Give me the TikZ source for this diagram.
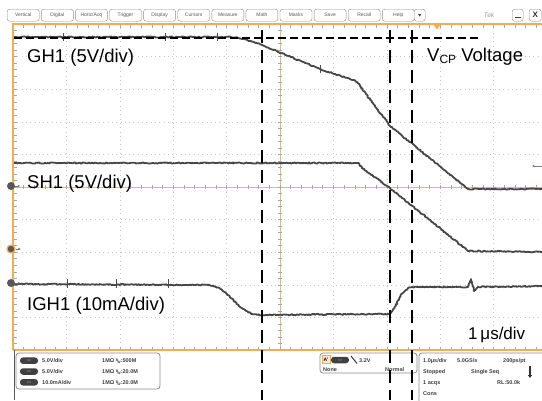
\documentclass[tikz,border=0pt]{standalone}
\usepackage{fontspec}
\setmainfont{Liberation Sans}
\usetikzlibrary{arrows.meta,decorations.pathmorphing}
\definecolor{tekorange}{RGB}{242,172,82}
\definecolor{axistan}{RGB}{205,190,160}
\tikzset{trace/.style={draw=black!72,line width=1.8pt,line join=round,
           decorate,decoration={random steps,segment length=1.3pt,amplitude=0.6pt}},
         spike/.style={draw=black!70,line width=0.8pt},
         cursor/.style={line width=2.6pt,dash pattern=on 13pt off 7pt},
         hcursor/.style={line width=1.8pt,dash pattern=on 7.5pt off 4.5pt},
         griddot/.style={draw=black!22,line width=0.6pt,dash pattern=on 0.7pt off 3.6pt},
         tick/.style={draw=black!35,line width=0.5pt},
         scopebtn/.style={draw=black!45,rounded corners=2.5pt,fill=white,minimum width=32pt,
           minimum height=12pt,inner sep=0pt,font=\fontsize{5}{6}\selectfont,text=black!65},
         lbl/.style={font=\fontsize{18.5}{20}\selectfont,inner sep=0pt,anchor=base west},
         info/.style={font=\fontsize{5.5}{6}\selectfont\bfseries,text=black!75,inner sep=0pt,anchor=base west},
         panel/.style={draw=black!45,line width=0.8pt,rounded corners=3pt},
         chpill/.style={fill=black!75,rounded corners=3pt,minimum width=18pt,minimum height=6.5pt,
           inner sep=0pt,font=\fontsize{3}{3}\selectfont,text=black!35},
         chmark/.style={circle,fill=black!65,minimum size=8pt,inner sep=0pt}
         }
\pgfmathsetseed{11}
\begin{document}
\begin{tikzpicture}[x=1pt,y=-1pt] % scope capture
  \useasboundingbox (0,0) rectangle (542,400);
  \fill[white] (0,0) rectangle (542,400);
  % menu bar
  \foreach \name [count=\i from 0] in {Vertical,Digital,Horiz/Acq,Trigger,Display,Cursors,Measure,Math,Masks,Save,Recall,Help}
    \node[scopebtn,anchor=north west] (btn\i) at (7+34.1*\i,9) {\name};
  \node[scopebtn,anchor=north west,minimum width=11pt] (btnmore) at (414,9) {};
  \fill[black!70] ([xshift=-1.6pt,yshift=1pt]btnmore.center) -- ++(3.2,0) -- ++(-1.6,2.4) -- cycle;
  \node[text=black!40,font=\fontsize{6.5}{7}\selectfont\itshape] (tek) at (489,15) {Tek};
  \node[scopebtn,anchor=north west,minimum width=11pt] (btnmin) at (512,9) {};
  \draw[black!75,line width=1pt] ([xshift=-3pt,yshift=-2pt]btnmin.center) -- ++(6,0);
  \node[scopebtn,anchor=north west,minimum width=12pt,font=\fontsize{8}{8}\selectfont\bfseries,text=black!80] (btnx) at (529,9) {X};
  % graticule
  \foreach \k in {1,...,9} {
    \draw[griddot] (13+53.4*\k,24) -- (13+53.4*\k,350);
    \draw[griddot] (13,24+32.6*\k) -- (547,24+32.6*\k);
  }
  \draw[axistan,line width=0.7pt] (280,24) -- (280,350);
  \draw[axistan,line width=0.7pt] (13,187) -- (547,187);
  \foreach \k in {0,...,50} {
    \draw[tick] (13+10.68*\k,24) -- ++(0,3.5);
    \draw[tick] (13+10.68*\k,350) -- ++(0,-3.5);
    \draw[tick] (13+10.68*\k,185) -- ++(0,4);
    \draw[tick] (13,24+6.52*\k) -- ++(3.5,0);
    \draw[tick] (278,24+6.52*\k) -- ++(4,0);
  }
  \draw[tekorange,line width=1.6pt] (13,350) -- (13,24) -- (547,24);
  \draw[tekorange,line width=1.6pt] (13,350) -- (547,350);
  \fill[tekorange] (433,24) -- (441,24) -- (437,29.5) -- cycle;
  % traces
  \draw[trace] (14,37) -- (225,37) .. controls (240,37) and (248,40) .. (262,45)
    -- (320,69) -- (350,79) .. controls (356,81) .. (360,86) -- (390,126) -- (468,189) -- (542,189);
  \draw[trace] (14,163) -- (354,163) .. controls (358,163) .. (362,168)
    -- (390,188) -- (468,251) -- (542,252);
  \draw[trace] (14,284) -- (208,285) .. controls (222,286) and (232,300) .. (242,308)
    .. controls (248,313) and (254,315) .. (262,315) -- (388,314)
    .. controls (396,312) and (398,295) .. (406,290) .. controls (408,288) .. (414,287)
    -- (468,287) -- (471,279) -- (474,291) -- (478,287) -- (542,286);
  \foreach \sx/\sy in {63/33,165/33,217/33,320/65} \draw[spike] (\sx,\sy) -- ++(0,8);
  \foreach \sx in {67,116,168} \draw[spike] (\sx,279) -- ++(0,9);
  % channel markers
  \node[chmark] (m2) at (11,186) {};
  \node[chmark,draw=tekorange,line width=1.2pt] (m3) at (11,249) {};
  \node[chmark] (m4) at (11,283) {};
  \foreach \m in {m2,m3,m4}
    \draw[black!55,line width=0.6pt,-{Stealth[length=2.5pt,width=2.5pt]}] (\m.east) -- ++(5,0);
  \coordinate (refR) at (542,166);
  \coordinate (refL) at (532,166);
  \draw[black!50,line width=0.6pt,-{Stealth[length=2.5pt,width=2.5pt]}] (refR) -- (refL);
  % labels
  \node[lbl] (gh1) at (27,62) {GH1 (5V/div)};
  \node[lbl] (sh1) at (27,188) {SH1 (5V/div)};
  \node[lbl] (igh1) at (27,310) {IGH1 (10mA/div)};
  \node[lbl] (vcp) at (427,61) {V\raisebox{-0.25ex}{\fontsize{12}{12}\selectfont CP} Voltage};
  \node[lbl,font=\fontsize{17}{19}\selectfont] (tdiv) at (468,339) {1\,μs/div};
  % readout panel
  \draw[black!65,line width=0.8pt] (14,350) -- (14,400);
  \draw[panel] (16,353) rectangle (160,389);
  \foreach \r/\ch in {0/2,1/3,2/4}
    \node[chpill] (pill\ch) at (29,360.7+10.8*\r) {C\ch};
  \node[info] (vd2) at (42,362.8) {5.0V/div};
  \node[info] (vd3) at (42,373.6) {5.0V/div};
  \node[info] (vd4) at (42,384.4) {10.0mA/div};
  \node[info] (bw2) at (102,362.8) {1MΩ\ \raisebox{0.4ex}{\fontsize{3.5}{3.5}\selectfont B}\kern-0.15em\raisebox{-0.3ex}{\fontsize{3.5}{3.5}\selectfont W}:500M};
  \node[info] (bw3) at (102,373.6) {1MΩ\ \raisebox{0.4ex}{\fontsize{3.5}{3.5}\selectfont B}\kern-0.15em\raisebox{-0.3ex}{\fontsize{3.5}{3.5}\selectfont W}:20.0M};
  \node[info] (bw4) at (102,384.4) {1MΩ\ \raisebox{0.4ex}{\fontsize{3.5}{3.5}\selectfont B}\kern-0.15em\raisebox{-0.3ex}{\fontsize{3.5}{3.5}\selectfont W}:20.0M};
  \draw[panel] (320,353) rectangle (417,373);
  \node[draw=tekorange,fill=tekorange!25,minimum size=8pt,inner sep=0pt,font=\fontsize{5}{5}\selectfont\bfseries] (trsrc) at (326,359.5) {A'};
  \node[chpill] (trpill) at (340,360) {C2};
  \draw[black!80,line width=1pt] (351,356) -- (357,363.5);
  \node[info] (trlvl) at (359,362.3) {3.2V};
  \node[info] (trcpl) at (323,371) {None};
  \node[info] (trmode) at (385,371) {Normal};
  \draw[panel] (419,402) -- (419,353) -- (550,353);
  \node[info] (hscale) at (423,362.5) {1.0μs/div};
  \node[info] (srate) at (457,362.5) {5.0GS/s};
  \node[info] (res) at (503,362.5) {200ps/pt};
  \node[info] (state) at (423,373.5) {Stopped};
  \node[info] (seq) at (471,373.5) {Single Seq};
  \coordinate (arrTop) at (530,366);
  \coordinate (arrBot) at (530,378);
  \draw[black!80,line width=1.4pt,-{Triangle[length=3pt,width=4pt]}] (arrTop) -- (arrBot);
  \node[info] (acqs) at (423,384.5) {1 acqs};
  \node[info] (rl) at (497,384.5) {RL:50.0k};
  \node[info] (cons) at (423,395.5) {Cons};
  % cursors
  \draw[hcursor] (14,38) -- (478,38);
  \foreach \cx in {262,390,412} \draw[cursor] (\cx,30) -- (\cx,400);
\end{tikzpicture}
\end{document}
